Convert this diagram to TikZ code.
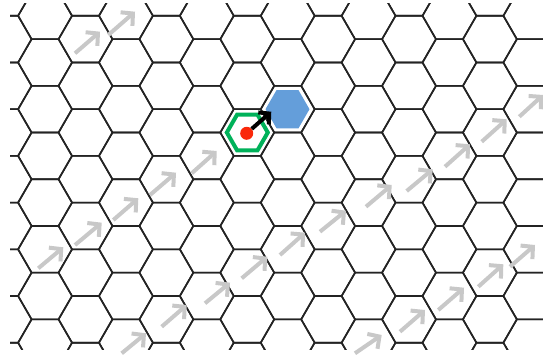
\documentclass[tikz,border=0pt]{standalone}
\usetikzlibrary{arrows.meta,shapes.geometric}
\definecolor{gridgray}{RGB}{35,35,35}
\definecolor{flowgray}{RGB}{200,200,200}
\definecolor{goalblue}{RGB}{100,158,218}
\definecolor{ringgreen}{RGB}{0,178,90}
\definecolor{dotred}{RGB}{250,40,10}
\begin{document}
\begin{tikzpicture}[x=1pt,y=-1pt,
  gridline/.style={draw=gridgray,line width=1.6pt},
  flowarrow/.style={draw=flowgray,line width=4pt,line cap=butt,-{Straight Barb[length=8.5pt,width=18pt]}},
  ring/.style={regular polygon,regular polygon sides=6,draw=ringgreen,line width=4pt,minimum size=41pt,inner sep=0pt},
  goalhex/.style={regular polygon,regular polygon sides=6,fill=goalblue,minimum size=44pt,inner sep=0pt},
  agentdot/.style={circle,fill=dotred,minimum size=13pt,inner sep=0pt},
  movearrow/.style={draw=black,line width=4pt,-{Straight Barb[length=7.5pt,width=16pt]}}]
\useasboundingbox (0,0) rectangle (543,358);
\fill[white] (0,0) rectangle (543,358);
\begin{scope}
\clip (10,4) rectangle (543,349);
\foreach \c in {-1,...,13}{
  \foreach \m in {-1,...,8}{
    \pgfmathsetmacro\cx{45.06+40.44*\c}
    \pgfmathsetmacro\cy{15.8+46.7*\m+23.35*mod(abs(\c),2)}
    \draw[gridline] (\cx+26.96,\cy) -- (\cx+13.48,\cy+23.35) -- (\cx-13.48,\cy+23.35)
      -- (\cx-26.96,\cy) -- (\cx-13.48,\cy-23.35) -- (\cx+13.48,\cy-23.35) -- cycle;
  }
}
\end{scope}
% flow arrows
\foreach \ax/\ay/\bx/\by in {
  75/53.3/100/31.7, 108.3/35/135/11.7,
  38.3/268.3/63.3/247.3, 75/245/101.7/222.7, 113.3/220/138.3/198.3, 150/195/176/172.7, 191.7/173.3/216.7/151,
  121.7/353.3/146/333.3, 161.7/326.7/186.7/305, 205/303.3/230/282.7, 241.7/278.3/267.3/256.7,
  280/255/305/232.7, 320/231.7/346/210.7, 366/206.7/391.7/185, 406.7/191/432.7/169.3,
  445/166.7/470/144.3, 481.7/141.7/506.7/119.3, 519.3/116.7/543/95,
  355/353.3/381.7/335, 400/331.7/425/310, 438.3/310/464/287.7, 478.3/286.7/503.3/264.3, 510/266.7/535/245}
  \draw[flowarrow] (\ax,\ay) -- (\bx,\by);
% agent, target
\node[goalhex] (goal) at (287.5,109.2) {};
\node[ring] (cell) at (247.3,132.5) {};
\node[agentdot] (agent) at (246.7,133.3) {};
\draw[movearrow] (agent) -- ([xshift=6pt,yshift=-2.5pt]goal.west);
\end{tikzpicture}
\end{document}
